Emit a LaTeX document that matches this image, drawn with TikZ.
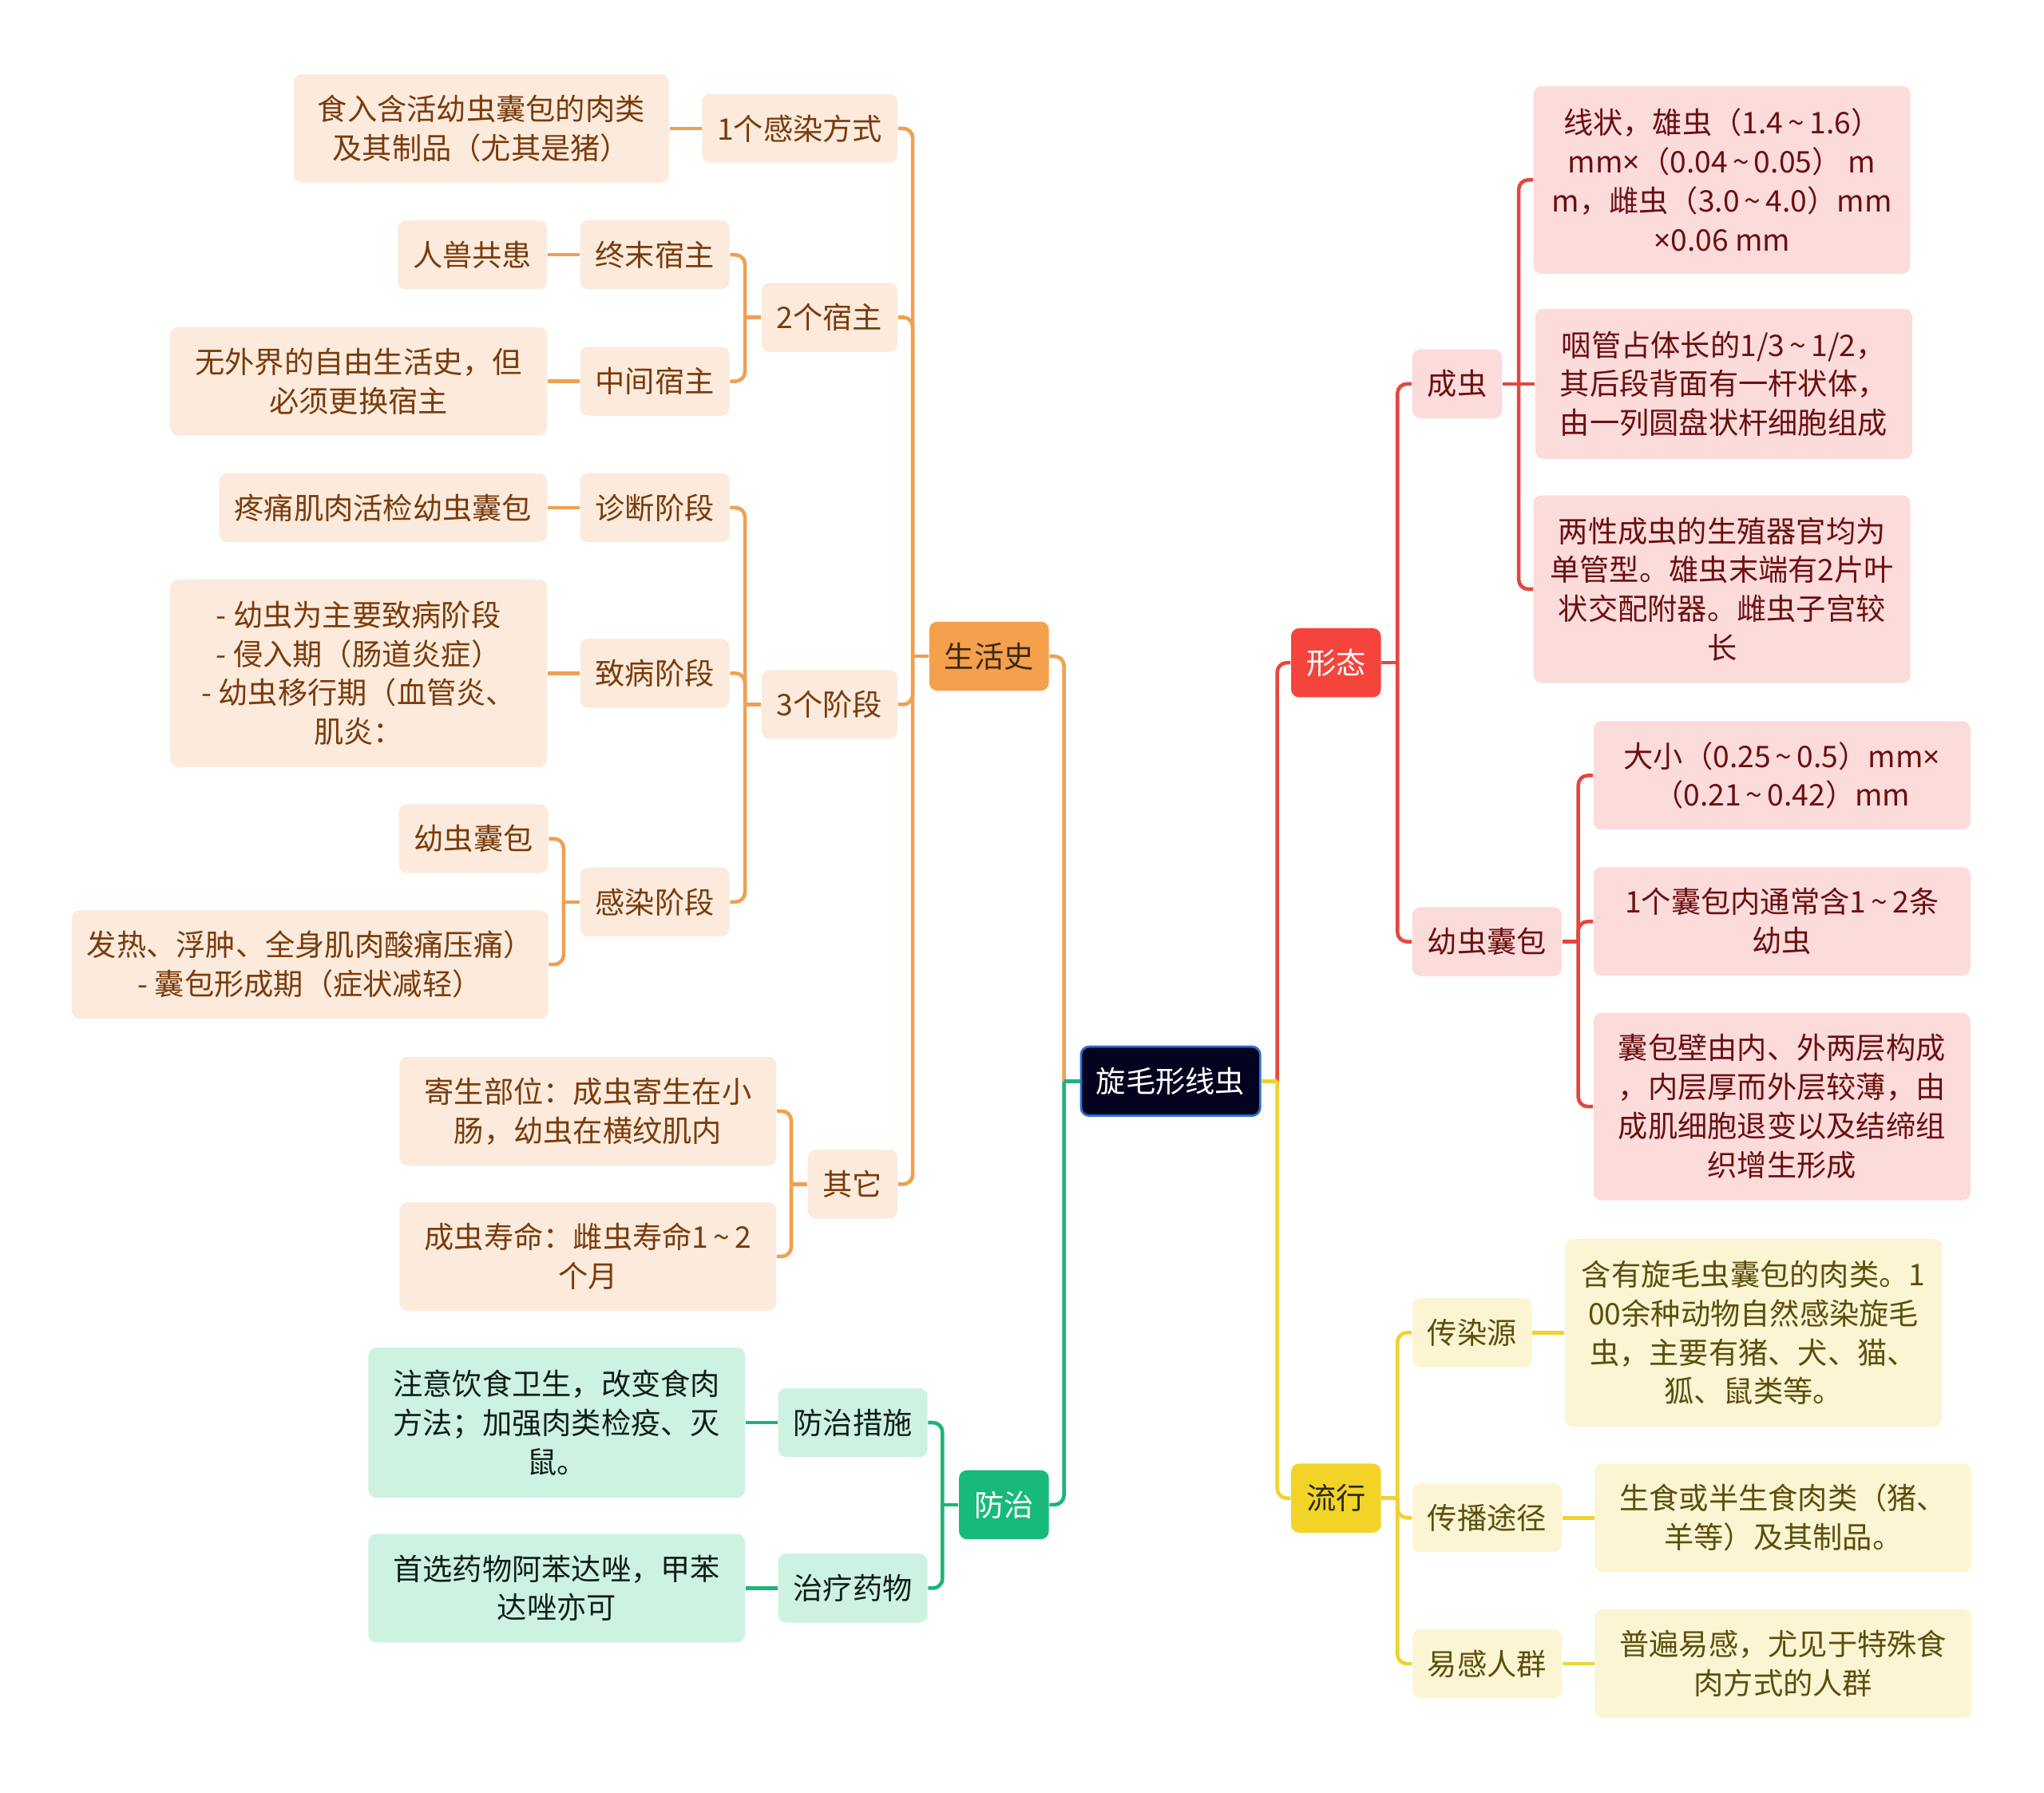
\documentclass[tikz,border=0pt]{standalone}
\usepackage{fontspec}
\newfontfamily\cjk{Noto Sans CJK SC}
\newfontfamily\latin{Noto Sans}
\usepackage{xcolor}
\usetikzlibrary{positioning}

\newcommand\by{{\latin ×}}
\newcommand\tl{\,\textasciitilde\,}

\definecolor{rootFill}{HTML}{03031F}
\definecolor{rootBorder}{HTML}{2E6CD6}
\definecolor{lifeMain}{HTML}{F5A04C}
\definecolor{lifeLight}{HTML}{FCEBDC}
\definecolor{lifeLine}{HTML}{EFA050}
\definecolor{lifeText}{HTML}{7A3B0C}
\definecolor{lifeDark}{HTML}{3B2A14}
\definecolor{formMain}{HTML}{F5443B}
\definecolor{formLight}{HTML}{FCDBDB}
\definecolor{formLine}{HTML}{E5463F}
\definecolor{formText}{HTML}{6B0F0F}
\definecolor{epiMain}{HTML}{F2D327}
\definecolor{epiLight}{HTML}{FCF5D3}
\definecolor{epiLine}{HTML}{EFD132}
\definecolor{epiText}{HTML}{5C4E0C}
\definecolor{epiDark}{HTML}{2B2A1A}
\definecolor{ctrlMain}{HTML}{17BA7B}
\definecolor{ctrlLight}{HTML}{CDF2E2}
\definecolor{ctrlLine}{HTML}{1DB479}
\definecolor{ctrlText}{HTML}{0F1F18}

\begin{document}
\begin{tikzpicture}[
    node distance=0.4cm,
    font=\cjk\fontsize{10.6pt}{13.9pt}\selectfont,
    box/.style={rectangle, rounded corners=0.1cm, inner xsep=0.19cm, inner ysep=0.1cm, minimum height=0.865cm, align=center},
    wide/.style={minimum width=4.72cm},
    two/.style={minimum height=1.36cm},
    three/.style={minimum height=1.88cm},
    four/.style={minimum height=2.35cm},
    rootbox/.style={box, fill=rootFill, draw=rootBorder, line width=0.8pt, text=white},
    lifemain/.style={box, fill=lifeMain, text=lifeDark},
    lifesub/.style={box, fill=lifeLight, text=lifeText},
    formmain/.style={box, fill=formMain, text=white},
    formsub/.style={box, fill=formLight, text=formText},
    epimain/.style={box, fill=epiMain, text=epiDark},
    episub/.style={box, fill=epiLight, text=epiText},
    ctrlmain/.style={box, fill=ctrlMain, text=white},
    ctrlsub/.style={box, fill=ctrlLight, text=ctrlText},
    lifeline/.style={draw=lifeLine, line width=1.3pt, rounded corners=0.12cm},
    formline/.style={draw=formLine, line width=1.3pt, rounded corners=0.12cm},
    epiline/.style={draw=epiLine, line width=1.3pt, rounded corners=0.12cm},
    ctrlline/.style={draw=ctrlLine, line width=1.3pt, rounded corners=0.12cm}
]
\useasboundingbox (0,0) rectangle (25.6,-22.46);

% Nodes
\node[rootbox] (root) at (14.661,-13.543) {旋毛形线虫};

\node[lifemain, anchor=east] (life) at (13.143,-8.220) {生活史};
\node[ctrlmain, anchor=east] (prev) at (13.143,-18.849) {防治};
\node[formmain, anchor=west] (form) at (16.163,-8.302) {形态};
\node[epimain, anchor=west] (epi) at (16.163,-18.767) {流行};

% life cycle
\node[lifesub, anchor=east] (inf) at (11.249,-1.608) {1个感染方式};
\node[lifesub, anchor=east] (host) at (11.249,-3.975) {2个宿主};
\node[lifesub, anchor=east] (stage) at (11.249,-8.824) {3个阶段};
\node[lifesub, anchor=east] (other) at (11.249,-14.833) {其它};

\node[lifesub, two, minimum width=4.70cm, left=of inf] (infT) {食入含活幼虫囊包的肉类\\及其制品（尤其是猪）};
\node[lifesub, anchor=east] (final) at (9.143,-3.192) {终末宿主};
\node[lifesub, anchor=east] (mid) at (9.143,-4.776) {中间宿主};
\node[lifesub, left=of final] (zoo) {人兽共患};
\node[lifesub, wide, two, left=of mid] (nofree) {无外界的自由生活史，但\\必须更换宿主};

\node[lifesub, anchor=east] (diag) at (9.143,-6.359) {诊断阶段};
\node[lifesub, anchor=east] (sick) at (9.143,-8.433) {致病阶段};
\node[lifesub, anchor=east] (infs) at (9.143,-11.298) {感染阶段};
\node[lifesub, left=of diag] (biopsy) {疼痛肌肉活检幼虫囊包};
\node[lifesub, wide, four, left=of sick] (sickT) {- 幼虫为主要致病阶段\\- 侵入期（肠道炎症）\\- 幼虫移行期（血管炎、\\肌炎：};
\node[lifesub, anchor=east] (cyst) at (6.873,-10.506) {幼虫囊包};
\node[lifesub, two, minimum width=5.96cm, anchor=east] (fever) at (6.873,-12.082) {发热、浮肿、全身肌肉酸痛压痛）\\- 囊包形成期（症状减轻）};

\node[lifesub, wide, two, anchor=east] (site) at (9.731,-13.918) {寄生部位：成虫寄生在小\\肠，幼虫在横纹肌内};
\node[lifesub, wide, two, anchor=east] (age) at (9.731,-15.739) {成虫寿命：雌虫寿命1\tl2\\个月};

% control
\node[ctrlsub, anchor=east] (meas) at (11.624,-17.820) {防治措施};
\node[ctrlsub, anchor=east] (drug) at (11.624,-19.894) {治疗药物};
\node[ctrlsub, wide, three, left=of meas] (measT) {注意饮食卫生，改变食肉\\方法；加强肉类检疫、灭\\鼠。};
\node[ctrlsub, wide, two, left=of drug] (drugT) {首选药物阿苯达唑，甲苯\\达唑亦可};

% morphology
\node[formsub, anchor=west] (adult) at (17.682,-4.808) {成虫};
\node[formsub, anchor=west] (larva) at (17.682,-11.796) {幼虫囊包};
\node[formsub, wide, four, anchor=west] (a1) at (19.200,-2.253) {线状，雄虫（1.4\tl1.6）\\mm\by（0.04\tl0.05） m\\m，雌虫（3.0\tl4.0）mm\\\by0.06 mm};
\node[formsub, wide, three, right=of adult] (a2) {咽管占体长的1/3\tl1/2，\\其后段背面有一杆状体，\\由一列圆盘状杆细胞组成};
\node[formsub, wide, four, anchor=west] (a3) at (19.200,-7.380) {两性成虫的生殖器官均为\\单管型。雄虫末端有2片叶\\状交配附器。雌虫子宫较\\长};
\node[formsub, wide, two, anchor=west] (l1) at (19.951,-9.714) {大小（0.25\tl0.5）mm\by\\（0.21\tl0.42）mm};
\node[formsub, wide, two, anchor=west] (l2) at (19.951,-11.543) {1个囊包内通常含1\tl2条\\幼虫};
\node[formsub, wide, four, anchor=west] (l3) at (19.951,-13.861) {囊包壁由内、外两层构成\\，内层厚而外层较薄，由\\成肌细胞退变以及结缔组\\织增生形成};

% epidemiology
\node[episub, anchor=west] (src) at (17.682,-16.694) {传染源};
\node[episub, anchor=west] (route) at (17.682,-19.012) {传播途径};
\node[episub, anchor=west] (pop) at (17.682,-20.841) {易感人群};
\node[episub, wide, four, right=of src] (srcT) {含有旋毛虫囊包的肉类。1\\00余种动物自然感染旋毛\\虫，主要有猪、犬、猫、\\狐、鼠类等。};
\node[episub, wide, two, right=of route] (routeT) {生食或半生食肉类（猪、\\羊等）及其制品。};
\node[episub, wide, two, right=of pop] (popT) {普遍易感，尤见于特殊食\\肉方式的人群};

% Junctions
\coordinate (rootL) at ([xshift=-0.2cm]root.west);
\coordinate (rootR) at ([xshift=0.2cm]root.east);
\coordinate (lifeJ) at ([xshift=-0.2cm]life.west);
\coordinate (hostJ) at ([xshift=-0.2cm]host.west);
\coordinate (stageJ) at ([xshift=-0.2cm]stage.west);
\coordinate (infsJ) at ([xshift=-0.2cm]infs.west);
\coordinate (otherJ) at ([xshift=-0.2cm]other.west);
\coordinate (prevJ) at ([xshift=-0.2cm]prev.west);
\coordinate (formJ) at ([xshift=0.2cm]form.east);
\coordinate (adultJ) at ([xshift=0.2cm]adult.east);
\coordinate (larvaJ) at ([xshift=0.2cm]larva.east);
\coordinate (epiJ) at ([xshift=0.2cm]epi.east);

% Edges
\draw[lifeline] (rootL) |- (life.east);
\draw[ctrlline] (rootL) |- (prev.east);
\draw[ctrlline] (root.west) -- (rootL);
\draw[formline] (rootR) |- (form.west);
\draw[epiline] (rootR) |- (epi.west);
\draw[epiline] (root.east) -- (rootR);

\draw[lifeline] (life.west) -- (lifeJ);
\draw[lifeline] (lifeJ) |- (inf.east);
\draw[lifeline] (lifeJ) |- (host.east);
\draw[lifeline] (lifeJ) |- (stage.east);
\draw[lifeline] (lifeJ) |- (other.east);
\draw[lifeline] (inf.west) -- (infT.east);

\draw[lifeline] (host.west) -- (hostJ);
\draw[lifeline] (hostJ) |- (final.east);
\draw[lifeline] (hostJ) |- (mid.east);
\draw[lifeline] (final.west) -- (zoo.east);
\draw[lifeline] (mid.west) -- (nofree.east);

\draw[lifeline] (stage.west) -- (stageJ);
\draw[lifeline] (stageJ) |- (diag.east);
\draw[lifeline] (stageJ) |- (sick.east);
\draw[lifeline] (stageJ) |- (infs.east);
\draw[lifeline] (diag.west) -- (biopsy.east);
\draw[lifeline] (sick.west) -- (sickT.east);
\draw[lifeline] (infs.west) -- (infsJ);
\draw[lifeline] (infsJ) |- (cyst.east);
\draw[lifeline] (infsJ) |- (fever.east);

\draw[lifeline] (other.west) -- (otherJ);
\draw[lifeline] (otherJ) |- (site.east);
\draw[lifeline] (otherJ) |- (age.east);

\draw[ctrlline] (prev.west) -- (prevJ);
\draw[ctrlline] (prevJ) |- (meas.east);
\draw[ctrlline] (prevJ) |- (drug.east);
\draw[ctrlline] (meas.west) -- (measT.east);
\draw[ctrlline] (drug.west) -- (drugT.east);

\draw[formline] (form.east) -- (formJ);
\draw[formline] (formJ) |- (adult.west);
\draw[formline] (formJ) |- (larva.west);
\draw[formline] (adult.east) -- (a2.west);
\draw[formline] (adultJ) |- (a1.west);
\draw[formline] (adultJ) |- (a3.west);
\draw[formline] (larva.east) -- (larvaJ);
\draw[formline] (larvaJ) |- (l1.west);
\draw[formline] (larvaJ) |- (l2.west);
\draw[formline] (larvaJ) |- (l3.west);

\draw[epiline] (epi.east) -- (epiJ);
\draw[epiline] (epiJ) |- (src.west);
\draw[epiline] (epiJ) |- (route.west);
\draw[epiline] (epiJ) |- (pop.west);
\draw[epiline] (src.east) -- (srcT.west);
\draw[epiline] (route.east) -- (routeT.west);
\draw[epiline] (pop.east) -- (popT.west);

\end{tikzpicture}
\end{document}
